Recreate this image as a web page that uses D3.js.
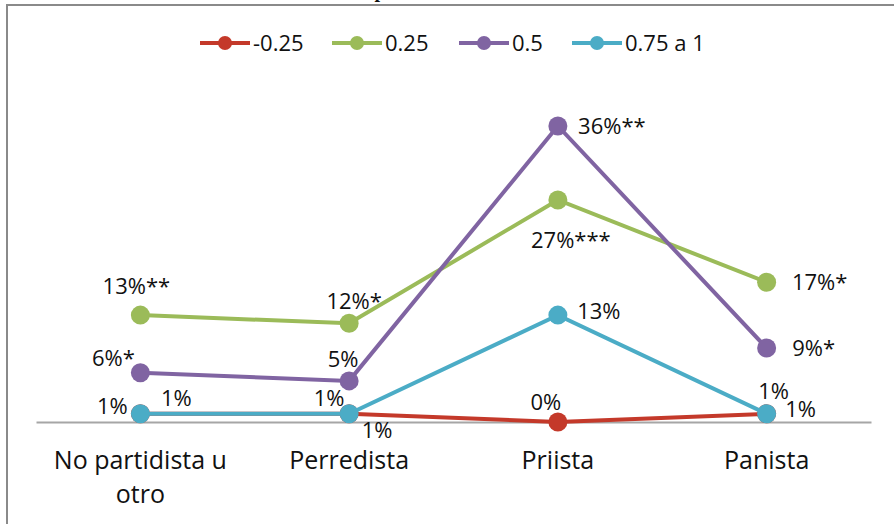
<!DOCTYPE html>
<html>
<head>
<meta charset="utf-8">
<script src="https://cdn.jsdelivr.net/npm/d3@7"></script>
<style>
    body { margin: 0; background: #fff; }
    text { font-family: "Open Sans", "Noto Sans", sans-serif; fill: #111; }
</style>
</head>
<body>
<script>
var categories = ['No partidista u otro', 'Perredista', 'Priista', 'Panista']

var seriesNames = ['-0.25', '0.25', '0.5', '0.75 a 1']

var valuesNeg025 = [1, 1, 0, 1]
var values025 = [13, 12, 27, 17]
var values05 = [6, 5, 36, 9]
var values075 = [1, 1, 13, 1]

var labelsNeg025 = ['1%', '1%', '0%', '1%']
var labels025 = ['13%**', '12%*', '27%***', '17%*']
var labels05 = ['6%*', '5%', '36%**', '9%*']
var labels075 = ['1%', '1%', '13%', '1%']

var _width = 894
var _height = 524
var _colors = ['#c4392a', '#9bbb59', '#8064a2', '#4bacc6']

// where each data label sits relative to its point: [dx, dy] of the label centre
var _labelPlace = [
    [[36, -15], [28, 17], [-12, -20], [34, -4]],
    [[-4, -29], [5, -22], [13, 40], [53, 0]],
    [[-27, -14], [-6, -22], [54, 0], [47, 0]],
    [[-28, -7], [-20, -15], [41, -4], [7, -22]]
]

var series = [valuesNeg025, values025, values05, values075].map(function (v, i) {
    var labels = [labelsNeg025, labels025, labels05, labels075][i]
    return {
        name: seriesNames[i],
        color: _colors[i],
        points: v.map(function (d, j) {
            return {cat: categories[j], value: d, label: labels[j], place: _labelPlace[i][j]}
        })
    }
})

var svg = d3.select('body').append('svg')
    .attr('width', _width)
    .attr('height', _height)

// chart frame (only top and left edges fall inside the picture)
svg.append('path')
    .attr('d', 'M7,' + _height + 'V5H' + _width)
    .attr('fill', 'none')
    .attr('stroke', '#8a8a8a')
    .attr('stroke-width', 2)

// title, almost entirely clipped by the top of the picture
svg.append('text')
    .attr('x', 380)
    .attr('y', -3)
    .attr('text-anchor', 'middle')
    .style('font-family', '"Liberation Serif", serif')
    .style('font-weight', 'bold')
    .style('font-size', '20px')
    .text('p')

var x = d3.scaleBand()
    .domain(categories)
    .range([36, 871])

var y = d3.scaleLinear()
    .domain([0, 36])
    .range([422, 126])

function cx(d) { return x(d.cat) + x.bandwidth() / 2 }

// category axis
var axisG = svg.append('g')
    .attr('transform', 'translate(0,' + y(0) + ')')
    .call(d3.axisBottom(x).tickSize(0).tickPadding(0))

axisG.select('.domain').attr('stroke', '#a6a6a6').attr('stroke-width', 2)
axisG.selectAll('.tick text').remove()

axisG.selectAll('.tick').each(function (d) {
    var t = d3.select(this).append('text')
        .attr('text-anchor', 'middle')
        .style('font-size', '25px')
        .attr('fill', '#111')
    var lines = d === 'No partidista u otro' ? ['No partidista u', 'otro'] : [d]
    lines.forEach(function (ln, k) {
        t.append('tspan').attr('x', 0).attr('y', 47 + k * 34).text(ln)
    })
})

var line = d3.line()
    .x(cx)
    .y(function (d) { return y(d.value) })

var seriesG = svg.selectAll('g.series')
    .data(series)
    .enter()
    .append('g')
    .attr('class', 'series')

seriesG.append('path')
    .attr('d', function (s) { return line(s.points) })
    .attr('fill', 'none')
    .attr('stroke', function (s) { return s.color })
    .attr('stroke-width', 4)

seriesG.selectAll('circle')
    .data(function (s) { return s.points.map(function (p) { return {p: p, color: s.color} }) })
    .enter()
    .append('circle')
    .attr('cx', function (d) { return cx(d.p) })
    .attr('cy', function (d) { return y(d.p.value) })
    .attr('r', 9.5)
    .attr('fill', function (d) { return d.color })

// data labels on top of everything
series.forEach(function (s) {
    svg.append('g').selectAll('text')
        .data(s.points)
        .enter()
        .append('text')
        .attr('x', function (d) { return cx(d) + d.place[0] })
        .attr('y', function (d) { return y(d.value) + d.place[1] })
        .attr('dy', '0.35em')
        .attr('text-anchor', 'middle')
        .style('font-size', '22px')
        .text(function (d) { return d.label })
})

// legend
var legendX = [200, 332, 459, 572]
var legend = svg.append('g').selectAll('g')
    .data(series)
    .enter()
    .append('g')
    .attr('transform', function (d, i) { return 'translate(' + legendX[i] + ',43)' })

legend.append('line')
    .attr('x1', 0).attr('x2', 50)
    .attr('stroke', function (d) { return d.color })
    .attr('stroke-width', 4)

legend.append('circle')
    .attr('cx', 25)
    .attr('r', 7)
    .attr('fill', function (d) { return d.color })

legend.append('text')
    .attr('x', 53)
    .attr('dy', '0.35em')
    .style('font-size', '22px')
    .text(function (d) { return d.name })
</script>
</body>
</html>
